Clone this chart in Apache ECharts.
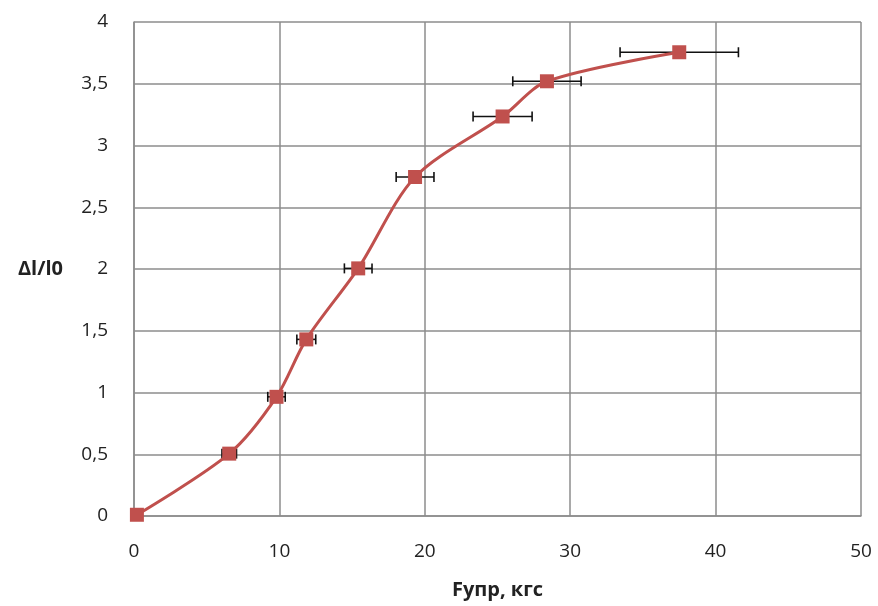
<!DOCTYPE html>
<html><head><meta charset="utf-8">
<script src="https://cdn.jsdelivr.net/npm/echarts@6/dist/echarts.min.js"></script>
<style>html,body{margin:0;padding:0;background:#fff}#c{width:878px;height:606px}</style>
</head><body><div id="c"></div>
<script>
const forceX = [0.2, 6.55, 9.8, 11.85, 15.42, 19.33, 25.35, 28.4, 37.5];
const strain = [0.01, 0.505, 0.965, 1.43, 2.005, 2.745, 3.235, 3.52, 3.755];
const xError = [0, 0.5, 0.6, 0.65, 0.95, 1.3, 2.03, 2.35, 4.07];
const xTicks = [0, 10, 20, 30, 40, 50];
const yTicks = [0, 0.5, 1, 1.5, 2, 2.5, 3, 3.5, 4];

const chart = echarts.init(document.getElementById('c'));
const pts = forceX.map((x, i) => [x, strain[i]]);
const errData = forceX.map((x, i) => [x - xError[i], x + xError[i], strain[i]]).filter((d, i) => xError[i] > 0);
const font = "'Open Sans', 'DejaVu Sans', sans-serif";
chart.setOption({
  animation: false,
  grid: {left: 134, right: 17, top: 22, bottom: 90, containLabel: false},
  xAxis: {
    type: 'value', min: xTicks[0], max: xTicks[xTicks.length - 1], interval: 10,
    name: 'Fупр, кгс', nameLocation: 'middle', nameGap: 64,
    nameTextStyle: {fontFamily: font, fontSize: 20, fontWeight: 'bold', color: '#222'},
    axisLine: {show: true, lineStyle: {color: '#8c8c8c', width: 1.5}},
    axisTick: {show: false},
    axisLabel: {fontFamily: font, fontSize: 19, color: '#222', margin: 26},
    splitLine: {show: true, lineStyle: {color: '#8c8c8c', width: 1.5}}
  },
  yAxis: {
    type: 'value', min: yTicks[0], max: yTicks[yTicks.length - 1], interval: 0.5,
    name: 'Δl/l0', nameLocation: 'middle', nameRotate: 0, nameGap: 71,
    nameTextStyle: {fontFamily: font, fontSize: 20, fontWeight: 'bold', color: '#222'},
    axisLine: {show: true, lineStyle: {color: '#8c8c8c', width: 1.5}},
    axisTick: {show: false},
    axisLabel: {fontFamily: font, fontSize: 19, color: '#222', margin: 26,
      formatter: v => String(v).replace('.', ',')},
    splitLine: {show: true, lineStyle: {color: '#8c8c8c', width: 1.5}}
  },
  series: [
    {
      type: 'custom', z: 2,
      data: errData,
      renderItem: (params, api) => {
        const a = api.coord([api.value(0), api.value(2)]);
        const b = api.coord([api.value(1), api.value(2)]);
        const h = 5;
        const st = {stroke: '#111', lineWidth: 1.6};
        return {type: 'group', children: [
          {type: 'line', shape: {x1: a[0], y1: a[1], x2: b[0], y2: b[1]}, style: st},
          {type: 'line', shape: {x1: a[0], y1: a[1] - h, x2: a[0], y2: a[1] + h}, style: st},
          {type: 'line', shape: {x1: b[0], y1: b[1] - h, x2: b[0], y2: b[1] + h}, style: st}
        ]};
      }
    },
    {
      type: 'line', z: 3, data: pts, smooth: 0.3,
      symbol: 'rect', symbolSize: 14,
      lineStyle: {color: '#C0504D', width: 3},
      itemStyle: {color: '#C0504D'}
    }
  ]
});
</script></body></html>
